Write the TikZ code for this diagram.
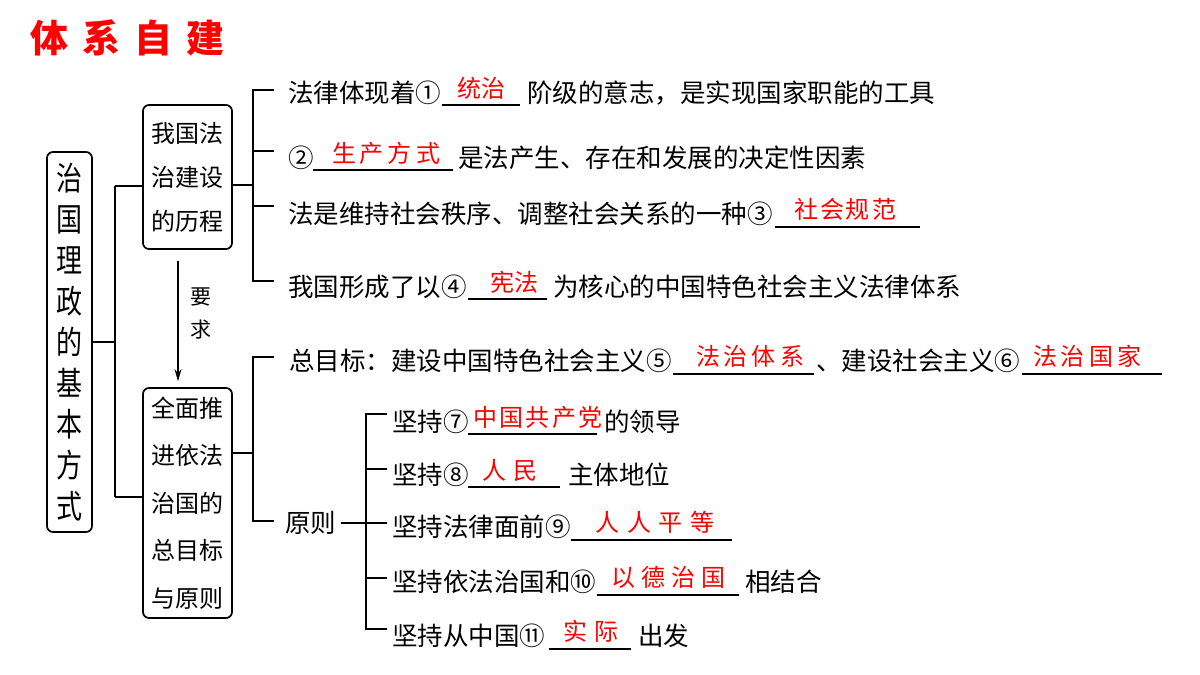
\documentclass[tikz,border=0pt]{standalone}
\usepackage{fontspec}
\newfontfamily\cjk{Noto Sans CJK SC}
\usetikzlibrary{arrows.meta}
\newcommand\gp[1]{\hspace{#1}}
\begin{document}
\begin{tikzpicture}[x=1pt,y=-1pt,
  txt/.style={anchor=base west, inner sep=0pt, font=\cjk\fontsize{25.5}{30}\selectfont, text=black},
  ans/.style={anchor=base, inner sep=0pt, font=\cjk\fontsize{24}{28}\selectfont, text=red},
  blank/.style={line width=1.3pt},
  conn/.style={line width=1.7pt},
  box/.style={draw, line width=1.7pt, rounded corners=6pt, inner sep=0pt, align=center},
  ttl/.style={anchor=base west, inner sep=0pt, font=\cjk\bfseries\fontsize{38}{40}\selectfont}
]
\useasboundingbox[fill=white] (0,0) rectangle (1200,675);

% title
\node[ttl, text=red] (title) at (30,52) {体\gp{14pt}系\gp{14pt}自\gp{14pt}建};

% boxes
\node[box, minimum width=45pt, minimum height=380pt] (mainbox) at (69.5,342) {};
\node[inner sep=0pt, align=center, yscale=1.25, font=\cjk\fontsize{26}{32.8}\selectfont] (maintext) at (mainbox.center)
  {治\\国\\理\\政\\的\\基\\本\\方\\式};
\node[box, minimum width=89pt, minimum height=144pt, font=\cjk\fontsize{24}{44}\selectfont] (box2) at (187.5,177)
  {我国法\\治建设\\的历程};
\node[box, minimum width=89pt, minimum height=230pt, font=\cjk\fontsize{24}{47.5}\selectfont] (box3) at (187.5,503)
  {全面推\\进依法\\治国的\\总目标\\与原则};

% arrow
\draw[line width=1.5pt, -{Stealth[length=12pt,width=7pt]}] ([xshift=-9.5pt,yshift=-11pt]box2.south) -- ([xshift=-9.5pt,yshift=6pt]box3.north);
\node[inner sep=0pt, align=center, font=\cjk\fontsize{21}{33}\selectfont] (yaoqiu) at (201,313) {要\\求};

% left connectors
\coordinate (jM) at (115,342);
\coordinate (jA) at (115,186);
\coordinate (jB) at (115,497);
\draw[conn] (mainbox.east) -- (jM);
\draw[conn] (jA) -- (jB);
\draw[conn] (jA) -- (jA -| box2.west);
\draw[conn] (jB) -- (jB -| box3.west);

% bracket 1
\coordinate (k1) at (253,185);
\draw[conn] ([yshift=-8pt]box2.east) -- (k1);
\coordinate (a1) at (274,90);
\coordinate (a2) at (274,151);
\coordinate (a3) at (274,206);
\coordinate (a4) at (274,281);
\draw[conn] (a1) -- (a1 -| k1) -- (a4 -| k1) -- (a4);
\draw[conn] (a2 -| k1) -- (a2);
\draw[conn] (a3 -| k1) -- (a3);

% bracket 2
\coordinate (k2) at (253,453);
\draw[conn] (box3.east |- k2) -- (k2);
\coordinate (b1) at (274,357);
\coordinate (b2) at (274,521);
\draw[conn] (b1) -- (b1 -| k2) -- (b2 -| k2) -- (b2);

% rows of bracket 1
\node[txt] (r1a) at (288,102) {法律体现着①};
\draw[blank] (442,105) -- (520,105);
\node[ans] (r1x) at (481,97) {统治};
\node[txt] (r1b) at (527,102) {阶级的意志，是实现国家职能的工具};

\node[txt] (r2a) at (288,167) {②};
\draw[blank] (313,170) -- (453,170);
\node[ans] (r2x) at (386,162) {生\gp{4pt}产\gp{4pt}方\gp{4pt}式};
\node[txt] (r2b) at (458,167) {是法产生、存在和发展的决定性因素};

\node[txt] (r3a) at (288,223) {法是维持社会秩序、调整社会关系的一种③};
\draw[blank] (775,227) -- (920,227);
\node[ans] (r3x) at (845,218) {社\gp{2pt}会\gp{2pt}规\gp{2pt}范};

\node[txt] (r4a) at (288,296) {我国形成了以④};
\draw[blank] (468,299) -- (547,299);
\node[ans] (r4x) at (514,291) {宪法};
\node[txt] (r4b) at (553,296) {为核心的中国特色社会主义法律体系};

% row of bracket 2
\node[txt] (r5a) at (289,370) {总目标：建设中国特色社会主义⑤};
\draw[blank] (673,374) -- (814,374);
\node[ans] (r5x) at (750,365) {法\gp{4pt}治\gp{4pt}体\gp{4pt}系};
\node[txt] (r5b) at (816,370) {、建设社会主义⑥};
\draw[blank] (1022,374) -- (1162,374);
\node[ans] (r5y) at (1087,365) {法\gp{4pt}治\gp{4pt}国\gp{4pt}家};

\node[txt] (yuanze) at (285,532) {原则};

% inner bracket
\coordinate (k3) at (366,523);
\draw[conn] ([xshift=5pt]yuanze.east |- k3) -- (k3);
\coordinate (c1) at (387,414);
\coordinate (c2) at (387,469);
\coordinate (c3) at (387,523);
\coordinate (c4) at (387,578);
\coordinate (c5) at (387,629);
\draw[conn] (c1) -- (c1 -| k3) -- (c5 -| k3) -- (c5);
\draw[conn] (c2 -| k3) -- (c2);
\draw[conn] (c3 -| k3) -- (c3);
\draw[conn] (c4 -| k3) -- (c4);

\node[txt] (r7a) at (392,431) {坚持⑦};
\draw[blank] (468,434) -- (597,434);
\node[ans] (r7x) at (538,426) {中\gp{2.5pt}国\gp{2.5pt}共\gp{2.5pt}产\gp{2.5pt}党};
\node[txt] (r7b) at (604,431) {的领导};

\node[txt] (r8a) at (392,484) {坚持⑧};
\draw[blank] (468,487) -- (560,487);
\node[ans] (r8x) at (510,479) {人\gp{8pt}民};
\node[txt] (r8b) at (568,484) {主体地位};

\node[txt] (r9a) at (392,536) {坚持法律面前⑨};
\draw[blank] (571,540) -- (732,540);
\node[ans] (r9x) at (655,531) {人\gp{7.5pt}人\gp{7.5pt}平\gp{7.5pt}等};

\node[txt] (r10a) at (392,591) {坚持依法治国和⑩};
\draw[blank] (597,595) -- (739,595);
\node[ans] (r10x) at (668,586) {以\gp{6pt}德\gp{6pt}治\gp{6pt}国};
\node[txt] (r10b) at (745,591) {相结合};

\node[txt] (r11a) at (392,645) {坚持从中国⑪};
\draw[blank] (549,649) -- (631,649);
\node[ans] (r11x) at (591,640) {实\gp{8pt}际};
\node[txt] (r11b) at (638,645) {出发};
\end{tikzpicture}
\end{document}
